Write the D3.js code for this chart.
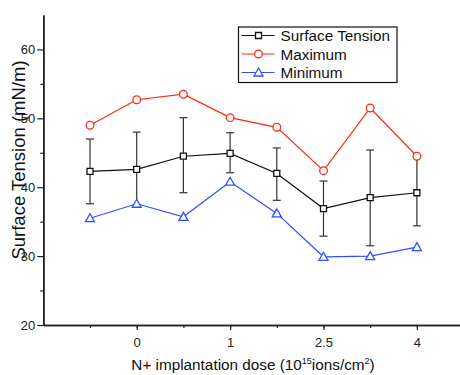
<!DOCTYPE html>
<html>
<head>
<meta charset="utf-8">
<script src="https://cdn.jsdelivr.net/npm/d3@7"></script>
<style>
  body { margin: 0; background: #fff; }
  svg { font-family: "Liberation Sans", Arial, sans-serif; }
</style>
</head>
<body>
<div id="chart"></div>
<script>
// dose categories (8 samples), only every second one gets a label
var doseLabels = ["", "0", "", "1", "", "2.5", "", "4"];

var surfaceTension = [42.3, 42.6, 44.5, 44.9, 42.0, 36.9, 38.5, 39.2];
var errUpper = [47.0, 48.0, 50.1, 47.9, 45.7, 40.9, 45.4, 44.4];
var errLower = [37.6, 37.4, 39.2, 42.1, 38.1, 32.9, 31.5, 34.4];
var maximum = [49.0, 52.7, 53.5, 50.1, 48.7, 42.4, 51.5, 44.5];
var minimum = [35.5, 37.6, 35.7, 40.8, 36.2, 29.9, 30.0, 31.3];

var yMajor = [20, 30, 40, 50, 60];
var yMinor = [25, 35, 45, 55];

var width = 460, height = 375;
var red = "#ff2a10", blue = "#3050ff";

var svg = d3.select("#chart").append("svg")
  .attr("width", width)
  .attr("height", height);

var x = d3.scaleLinear().domain([0, 9]).range([43.3, 463.6]);
var y = d3.scaleLinear().domain([20, 65]).range([325, 15]);

var idx = d3.range(1, doseLabels.length + 1);

// x axis: short ticks everywhere, longer ones under labelled doses
var xMinor = d3.axisBottom(x).tickValues(idx).tickSize(3).tickSizeOuter(0).tickFormat("");
var xMajor = d3.axisBottom(x)
  .tickValues(idx.filter(function (d) { return doseLabels[d - 1] !== ""; }))
  .tickSize(5).tickSizeOuter(0)
  .tickFormat(function (d) { return doseLabels[d - 1]; });

svg.append("g").attr("transform", "translate(0,325)").call(xMinor);
var gx = svg.append("g").attr("transform", "translate(0,325)").call(xMajor);
gx.selectAll("text").attr("font-size", 13).attr("fill", "#222").attr("font-family", "Liberation Sans, Arial").attr("dy", "1.05em");

var yMin = d3.axisLeft(y).tickValues(yMinor).tickSize(3).tickSizeOuter(0).tickFormat("");
var yMaj = d3.axisLeft(y).tickValues(yMajor).tickSize(6).tickSizeOuter(0);
svg.append("g").attr("transform", "translate(43.3,0)").call(yMin);
var gy = svg.append("g").attr("transform", "translate(43.3,0)").call(yMaj);
gy.selectAll("text").attr("font-size", 13).attr("fill", "#222").attr("font-family", "Liberation Sans, Arial").attr("x", -8);

svg.selectAll(".domain").attr("stroke", "#222").attr("stroke-width", 1.6);
svg.selectAll(".tick line").attr("stroke", "#222").attr("stroke-width", 1.2);

// axis titles
svg.append("text")
  .attr("transform", "translate(25,160) rotate(-90)")
  .attr("text-anchor", "middle")
  .attr("font-size", 18.5)
  .attr("fill", "#111")
  .text("Surface Tension (mN/m)");

var xt = svg.append("text")
  .attr("x", 253).attr("y", 370)
  .attr("text-anchor", "middle")
  .attr("font-size", 15.3)
  .attr("fill", "#111");
xt.append("tspan").text("N+ implantation dose (10");
xt.append("tspan").attr("font-size", 9).attr("dy", -6).text("15");
xt.append("tspan").attr("dy", 6).text("ions/cm");
xt.append("tspan").attr("font-size", 9).attr("dy", -6).text("2");
xt.append("tspan").attr("dy", 6).text(")");

// error bars
var eb = svg.append("g").attr("stroke", "#333").attr("stroke-width", 1.2);
idx.forEach(function (d, i) {
  eb.append("line").attr("x1", x(d)).attr("x2", x(d)).attr("y1", y(errUpper[i])).attr("y2", y(errLower[i]));
  [errUpper[i], errLower[i]].forEach(function (v) {
    eb.append("line").attr("x1", x(d) - 4).attr("x2", x(d) + 4).attr("y1", y(v)).attr("y2", y(v));
  });
});

var line = d3.line().x(function (d, i) { return x(i + 1); }).y(function (d) { return y(d); });

function drawSeries(vals, color, shape) {
  svg.append("path").datum(vals)
    .attr("d", line).attr("fill", "none")
    .attr("stroke", color).attr("stroke-width", 1.2);
  svg.selectAll(null).data(vals).enter().append("path")
    .attr("transform", function (d, i) { return "translate(" + x(i + 1) + "," + y(d) + ")"; })
    .attr("d", shape)
    .attr("fill", "#fff").attr("stroke", color).attr("stroke-width", 1.3);
}

var squareShape = "M-3,-3H3V3H-3Z";
var circleShape = d3.symbol().type(d3.symbolCircle).size(46)();
var triShape = "M0,-4.5L4.5,3.5H-4.5Z";

drawSeries(surfaceTension, "#111", squareShape);
drawSeries(maximum, red, circleShape);
drawSeries(minimum, blue, triShape);

// legend
var legendItems = [
  { label: "Surface Tension", color: "#111", shape: squareShape },
  { label: "Maximum", color: red, shape: circleShape },
  { label: "Minimum", color: blue, shape: triShape }
];
var lg = svg.append("g").attr("transform", "translate(238.5,27)");
lg.append("rect").attr("width", 158.5).attr("height", 55.5)
  .attr("fill", "#fff").attr("stroke", "#111").attr("stroke-width", 1.2);
var row = lg.selectAll(".legend").data(legendItems).enter().append("g")
  .attr("class", "legend")
  .attr("transform", function (d, i) { return "translate(0," + (8.5 + i * 18.5) + ")"; });
row.append("line").attr("x1", 3).attr("x2", 36).attr("stroke", function (d) { return d.color; }).attr("stroke-width", 1.2);
row.append("path").attr("transform", "translate(20,0)").attr("d", function (d) { return d.shape; })
  .attr("fill", "#fff").attr("stroke", function (d) { return d.color; }).attr("stroke-width", 1.3);
row.append("text").attr("x", 42).attr("y", 5.5).attr("font-size", 15.3).attr("fill", "#111")
  .text(function (d) { return d.label; });
</script>
</body>
</html>
